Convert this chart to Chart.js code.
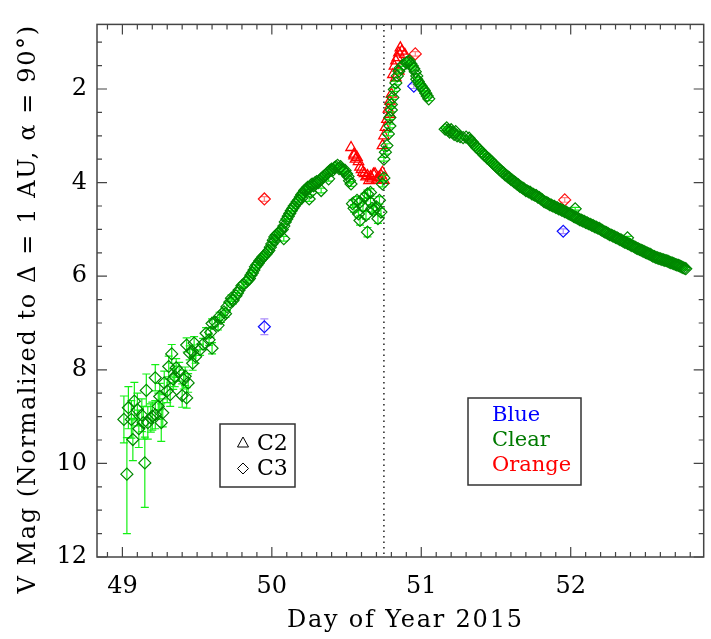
<!DOCTYPE html>
<html>
<head>
<meta charset="utf-8">
<script src="https://cdn.jsdelivr.net/npm/chart.js@4.4.0/dist/chart.umd.min.js"></script>
<style>
html, body { margin: 0; padding: 0; background: #fff; }
#wrap { width: 711px; height: 639px; }
</style>
</head>
<body>
<div id="wrap"><canvas id="lightCurve" width="711" height="639"></canvas></div>
<script>
// [day, mag, err] or [day, mag, errUp, errDown]
const clearEarly = [
  [49.01, 9.06, 0.50], [49.03, 10.23, 0.78, 1.27], [49.04, 8.81, 0.45], [49.06, 9.06, 0.40],
  [49.07, 9.49, 0.45], [49.08, 8.67, 0.40], [49.10, 8.85, 0.35], [49.11, 9.26, 0.40],
  [49.13, 8.97, 0.35], [49.14, 9.13, 0.35], [49.15, 9.99, 0.55, 0.95], [49.16, 8.44, 0.35],
  [49.17, 9.13, 0.35], [49.19, 9.03, 0.30], [49.20, 8.99, 0.30], [49.22, 8.17, 0.28],
  [49.22, 8.96, 0.30], [49.24, 8.78, 0.28], [49.25, 8.57, 0.28], [49.26, 9.13, 0.40],
  [49.27, 8.92, 0.30], [49.28, 8.28, 0.25], [49.30, 8.45, 0.25], [49.31, 7.93, 0.22],
  [49.32, 8.53, 0.25], [49.33, 7.66, 0.20], [49.34, 8.20, 0.22], [49.35, 8.14, 0.22],
  [49.36, 7.96, 0.20], [49.38, 8.04, 0.20], [49.40, 8.55, 0.25], [49.41, 8.21, 0.20],
  [49.42, 8.14, 0.20], [49.43, 8.60, 0.22], [49.43, 7.47, 0.15], [49.44, 8.28, 0.20],
  [49.45, 7.64, 0.15], [49.47, 7.86, 0.15], [49.47, 7.61, 0.14], [49.48, 7.43, 0.14],
  [49.49, 7.72, 0.14], [49.52, 7.57, 0.12], [49.54, 7.45, 0.12], [49.56, 7.22, 0.12],
  [49.58, 7.36, 0.12], [49.59, 7.20, 0.10], [49.60, 7.54, 0.12], [49.60, 7.01, 0.10],
  [49.62, 6.98, 0.10], [49.64, 7.05, 0.10], [49.65, 6.86, 0.09], [49.66, 6.90, 0.09],
  [49.68, 6.76, 0.08], [49.69, 6.80, 0.08], [49.70, 6.65, 0.08], [49.72, 6.55, 0.07],
  [49.73, 6.47, 0.07], [49.74, 6.52, 0.07], [49.76, 6.42, 0.07], [49.77, 6.36, 0.06],
  [49.78, 6.30, 0.06], [49.80, 6.20, 0.06], [49.81, 6.18, 0.06], [49.83, 6.12, 0.06],
  [49.84, 6.08, 0.06]
];
const clearRise = [
  [49.85, 6.05, .05], [49.86, 5.98, .05], [49.87, 5.93, .05], [49.88, 5.87, .05], [49.89, 5.80, .05],
  [49.90, 5.76, .05], [49.91, 5.72, .05], [49.92, 5.67, .05], [49.93, 5.63, .05], [49.94, 5.59, .05],
  [49.95, 5.56, .05], [49.96, 5.53, .05], [49.97, 5.49, .05], [49.98, 5.45, .05], [49.99, 5.38, .05],
  [50.00, 5.31, .05], [50.01, 5.23, .05], [50.02, 5.16, .05], [50.02, 5.24, .05], [50.03, 5.12, .05],
  [50.04, 5.09, .05], [50.05, 5.06, .05], [50.06, 5.03, .05], [50.07, 5.00, .05], [50.08, 5.20, .05],
  [50.08, 4.93, .05], [50.09, 4.84, .05], [50.10, 4.78, .05], [50.11, 4.72, .05], [50.12, 4.66, .05],
  [50.13, 4.60, .05], [50.14, 4.55, .05], [50.15, 4.50, .05], [50.16, 4.46, .05], [50.17, 4.41, .05],
  [50.18, 4.37, .05], [50.19, 4.31, .05], [50.20, 4.26, .05], [50.20, 4.33, .05], [50.21, 4.22, .05],
  [50.22, 4.17, .05], [50.23, 4.14, .05], [50.24, 4.10, .05], [50.25, 4.35, .05], [50.25, 4.12, .05],
  [50.26, 4.06, .05], [50.26, 4.21, .05], [50.27, 4.03, .05], [50.28, 4.07, .05], [50.29, 4.00, .05],
  [50.30, 3.98, .05], [50.31, 4.00, .05], [50.32, 3.95, .05], [50.33, 4.17, .05], [50.33, 3.92, .05],
  [50.34, 3.89, .05], [50.35, 3.86, .05], [50.36, 3.84, .05], [50.37, 3.80, .05], [50.38, 3.77, .05],
  [50.38, 3.92, .05], [50.39, 3.74, .05], [50.40, 3.71, .05], [50.41, 3.73, .05], [50.42, 3.68, .05],
  [50.43, 3.66, .05], [50.44, 3.63, .05], [50.45, 3.70, .05], [50.46, 3.66, .05], [50.47, 3.72, .05],
  [50.48, 3.76, .05], [50.49, 3.74, .05], [50.50, 3.81, .05], [50.51, 3.87, .05], [50.52, 3.96, .05],
  [50.53, 4.03, .05]
];
const clearDip = [
  [50.54, 4.45, .08], [50.55, 4.55, .08], [50.57, 4.38, .08], [50.58, 4.67, .08], [50.59, 4.42, .08],
  [50.59, 4.81, .10], [50.61, 4.52, .08], [50.62, 4.31, .08], [50.63, 4.70, .08], [50.64, 4.24, .08],
  [50.64, 5.06, .10], [50.66, 4.21, .08], [50.66, 4.42, .08], [50.67, 4.55, .08], [50.68, 4.60, .08],
  [50.70, 4.52, .08], [50.71, 4.77, .10], [50.72, 4.38, .08], [50.73, 4.63, .08], [50.74, 4.03, .06],
  [50.75, 3.90, .06]
];
const clearPeak = [
  [50.75, 3.50, .04], [50.76, 3.35, .04], [50.77, 3.21, .04], [50.78, 2.96, .04], [50.79, 2.79, .04],
  [50.79, 2.61, .04], [50.80, 2.45, .04], [50.80, 2.33, .04], [50.81, 2.18, .04], [50.82, 2.01, .04],
  [50.83, 1.87, .04], [50.84, 1.72, .04], [50.85, 1.62, .04], [50.86, 1.55, .04], [50.88, 1.48, .04],
  [50.90, 1.44, .04], [50.91, 1.42, .04], [50.92, 1.40, .04], [50.93, 1.46, .04], [50.94, 1.51, .04],
  [50.95, 1.57, .04], [50.96, 1.63, .04], [50.97, 1.72, .04], [50.97, 1.79, .04], [50.98, 1.84, .04],
  [50.99, 1.90, .04], [51.00, 1.94, .04], [51.01, 1.99, .04], [51.02, 2.03, .04], [51.03, 2.09, .04],
  [51.04, 2.15, .04], [51.05, 2.21, .04]
];
const clearTail = [
  [51.16, 2.86, .03], [51.17, 2.83, .03], [51.18, 2.88, .03], [51.19, 2.92, .03], [51.20, 2.87, .03],
  [51.21, 2.93, .03], [51.22, 2.97, .03], [51.23, 2.91, .03], [51.24, 3.00, .03], [51.26, 3.02, .03],
  [51.28, 3.04, .03], [51.30, 3.03, .03], [51.32, 3.05, .03], [51.33, 3.10, .03], [51.34, 3.13, .03],
  [51.35, 3.17, .03], [51.36, 3.21, .03], [51.37, 3.25, .03], [51.38, 3.27, .03], [51.39, 3.30, .03],
  [51.40, 3.34, .03], [51.41, 3.37, .03], [51.42, 3.41, .03], [51.43, 3.43, .03], [51.44, 3.47, .03],
  [51.45, 3.49, .03], [51.46, 3.52, .03], [51.47, 3.55, .03], [51.48, 3.59, .03], [51.49, 3.62, .03],
  [51.50, 3.65, .03], [51.51, 3.68, .03], [51.52, 3.71, .03], [51.53, 3.74, .03], [51.54, 3.77, .03],
  [51.55, 3.79, .03], [51.56, 3.83, .03], [51.57, 3.85, .03], [51.58, 3.88, .03], [51.59, 3.90, .03],
  [51.60, 3.93, .03], [51.61, 3.95, .03], [51.62, 3.98, .03], [51.63, 4.00, .03], [51.64, 4.03, .03],
  [51.65, 4.05, .03], [51.66, 4.08, .03], [51.67, 4.10, .03], [51.68, 4.12, .03], [51.69, 4.14, .03],
  [51.70, 4.17, .03], [51.71, 4.18, .03], [51.72, 4.20, .03], [51.73, 4.21, .03], [51.74, 4.24, .03],
  [51.75, 4.25, .03], [51.76, 4.27, .03], [51.77, 4.28, .03], [51.78, 4.31, .03], [51.79, 4.32, .03],
  [51.80, 4.35, .03], [51.81, 4.37, .03], [51.82, 4.40, .03], [51.83, 4.42, .03], [51.84, 4.43, .03],
  [51.85, 4.45, .03], [51.86, 4.47, .03], [51.87, 4.48, .03], [51.88, 4.50, .03], [51.89, 4.51, .03],
  [51.90, 4.53, .03], [51.91, 4.54, .03], [51.92, 4.56, .03], [51.93, 4.57, .03], [51.94, 4.59, .03],
  [51.95, 4.60, .03], [51.96, 4.62, .03], [51.97, 4.63, .03], [51.98, 4.65, .03], [51.99, 4.67, .03],
  [52.00, 4.68, .03], [52.01, 4.70, .03], [52.02, 4.72, .03], [52.03, 4.74, .03], [52.04, 4.75, .03],
  [52.05, 4.77, .03], [52.06, 4.79, .03], [52.07, 4.80, .03], [52.08, 4.82, .03], [52.09, 4.83, .03],
  [52.10, 4.85, .03], [52.11, 4.86, .03], [52.12, 4.88, .03], [52.13, 4.89, .03], [52.14, 4.91, .03],
  [52.15, 4.92, .03], [52.16, 4.94, .03], [52.17, 4.95, .03], [52.18, 4.97, .03], [52.19, 4.98, .03],
  [52.20, 5.00, .03], [52.21, 5.02, .03], [52.22, 5.04, .03], [52.23, 5.06, .03], [52.24, 5.07, .03],
  [52.25, 5.09, .03], [52.26, 5.11, .03], [52.27, 5.12, .03], [52.28, 5.14, .03], [52.29, 5.15, .03],
  [52.30, 5.17, .03], [52.31, 5.18, .03], [52.32, 5.20, .03], [52.33, 5.22, .03], [52.34, 5.23, .03],
  [52.35, 5.25, .03], [52.36, 5.27, .03], [52.37, 5.28, .03], [52.38, 5.30, .03], [52.39, 5.31, .03],
  [52.40, 5.33, .03], [52.41, 5.35, .03], [52.42, 5.36, .03], [52.43, 5.38, .03], [52.44, 5.40, .03],
  [52.45, 5.41, .03], [52.46, 5.43, .03], [52.47, 5.44, .03], [52.48, 5.46, .03], [52.49, 5.47, .03],
  [52.50, 5.49, .03], [52.51, 5.50, .03], [52.52, 5.52, .03], [52.53, 5.53, .03], [52.54, 5.55, .03],
  [52.55, 5.57, .03], [52.56, 5.58, .03], [52.57, 5.60, .03], [52.58, 5.61, .03], [52.59, 5.62, .03],
  [52.60, 5.63, .03], [52.61, 5.64, .03], [52.62, 5.65, .03], [52.63, 5.66, .03], [52.64, 5.67, .03],
  [52.65, 5.68, .03], [52.66, 5.70, .03], [52.67, 5.71, .03], [52.68, 5.72, .03], [52.69, 5.73, .03],
  [52.70, 5.75, .03], [52.71, 5.76, .03], [52.72, 5.77, .03], [52.73, 5.78, .03], [52.74, 5.80, .03],
  [52.75, 5.81, .03], [52.76, 5.83, .03], [52.77, 5.84, .03],
  [52.03, 4.56, .03], [52.38, 5.18, .03]
];
const orangeC2 = [
  [50.53, 3.25], [50.55, 3.39], [50.55, 3.43], [50.56, 3.50], [50.57, 3.46], [50.58, 3.55],
  [50.59, 3.67], [50.60, 3.72], [50.61, 3.78], [50.62, 3.81], [50.63, 3.88], [50.64, 3.85],
  [50.65, 3.96], [50.66, 3.87], [50.67, 3.92], [50.68, 3.82], [50.69, 3.81], [50.70, 3.95],
  [50.71, 3.89], [50.72, 3.88], [50.73, 3.84], [50.74, 3.78], [50.75, 3.95], [50.74, 3.21],
  [50.75, 3.00], [50.76, 2.82], [50.77, 2.65], [50.78, 2.43], [50.79, 2.54], [50.79, 2.26],
  [50.80, 2.11], [50.81, 1.69], [50.82, 1.51], [50.83, 1.76], [50.83, 1.40], [50.84, 1.33],
  [50.85, 1.62], [50.85, 1.23], [50.86, 1.12], [50.87, 1.19], [50.89, 1.26]
];
const orangeC3 = [[49.95, 4.35, .05], [50.96, 1.25, .05], [51.96, 4.37, .05]];
const blueC3 = [[49.95, 7.08, .17], [50.95, 1.94, .05], [51.95, 5.04, .05]];

const dayTicks = [49, 50, 51, 52];
const magTicks = [2, 4, 6, 8, 10, 12];
const flareDay = 50.75;
const xTitle = 'Day of Year 2015';
const yTitle = 'V Mag (Normalized to Δ = 1 AU, α = 90°)';

const toPoints = rows => rows.map(r => ({ x: r[0], y: r[1], up: r[2] || 0, down: r[3] !== undefined ? r[3] : (r[2] || 0) }));

const serif = "'DejaVu Serif', serif";

const errorBars = {
  id: 'errorBars',
  beforeDatasetDraw(chart, args) {
    const ds = chart.data.datasets[args.index];
    if (!ds.errorColor) return;
    const { ctx, scales: { x, y }, chartArea } = chart;
    ctx.save();
    ctx.beginPath();
    ctx.rect(chartArea.left, chartArea.top, chartArea.right - chartArea.left, chartArea.bottom - chartArea.top);
    ctx.clip();
    ctx.strokeStyle = ds.errorColor;
    ctx.lineWidth = 1.2;
    ds.data.forEach(p => {
      if (!p.up && !p.down) return;
      const px = x.getPixelForValue(p.x);
      const y1 = y.getPixelForValue(p.y - p.up);
      const y2 = y.getPixelForValue(p.y + p.down);
      ctx.beginPath();
      ctx.moveTo(px, y1); ctx.lineTo(px, y2);
      ctx.moveTo(px - 4, y1); ctx.lineTo(px + 4, y1);
      ctx.moveTo(px - 4, y2); ctx.lineTo(px + 4, y2);
      ctx.stroke();
    });
    ctx.restore();
  }
};

const frame = {
  id: 'frame',
  beforeDatasetsDraw(chart) {
    const { ctx, scales: { x }, chartArea: a } = chart;
    const px = x.getPixelForValue(flareDay);
    ctx.save();
    ctx.strokeStyle = '#222';
    ctx.lineWidth = 1.5;
    ctx.setLineDash([1.5, 4]);
    ctx.beginPath();
    ctx.moveTo(px, a.top); ctx.lineTo(px, a.bottom);
    ctx.stroke();
    ctx.restore();
  },
  afterDraw(chart) {
    const { ctx, scales: { x, y }, chartArea: a } = chart;
    ctx.save();
    ctx.strokeStyle = '#444';
    ctx.lineWidth = 1.5;
    ctx.strokeRect(a.left, a.top, a.right - a.left, a.bottom - a.top);
    ctx.lineWidth = 1.2;
    ctx.beginPath();
    for (let i = 488; i <= 528; i++) {
      const v = i / 10;
      if (v < x.min || v > x.max) continue;
      const p = x.getPixelForValue(v);
      const len = (i % 10 === 0) ? 10 : 5;
      ctx.moveTo(p, a.bottom); ctx.lineTo(p, a.bottom - len);
      ctx.moveTo(p, a.top); ctx.lineTo(p, a.top + len);
    }
    for (let i = 2; i <= 24; i++) {
      const v = i / 2;
      if (v < y.min || v > y.max) continue;
      const p = y.getPixelForValue(v);
      const len = (i % 4 === 0) ? 10 : 5;
      ctx.moveTo(a.left, p); ctx.lineTo(a.left + len, p);
      ctx.moveTo(a.right, p); ctx.lineTo(a.right - len, p);
    }
    ctx.stroke();

    // axis titles, spaced out like the vector font of the original
    ctx.fillStyle = '#000';
    ctx.font = '24px ' + serif;
    ctx.textAlign = 'center';
    ctx.textBaseline = 'alphabetic';
    ctx.letterSpacing = '1.8px';
    ctx.fillText(xTitle, (a.left + a.right) / 2 + 5, 627);
    ctx.save();
    ctx.translate(35, 309);
    ctx.rotate(-Math.PI / 2);
    ctx.letterSpacing = '1.6px';
    ctx.fillText(yTitle, 0, 0);
    ctx.restore();
    ctx.letterSpacing = '0px';
    ctx.textAlign = 'left';

    // instrument legend
    ctx.strokeStyle = '#333';
    ctx.lineWidth = 1.5;
    ctx.strokeRect(220, 424, 75, 63);
    ctx.fillStyle = '#000';
    ctx.font = '22px ' + serif;
    ctx.textBaseline = 'middle';
    ctx.fillText('C2', 257, 444);
    ctx.fillText('C3', 257, 469);
    ctx.lineWidth = 1;
    ctx.strokeStyle = '#000';
    ctx.beginPath();
    ctx.moveTo(243, 437); ctx.lineTo(248.5, 447); ctx.lineTo(237.5, 447); ctx.closePath();
    ctx.moveTo(243, 463); ctx.lineTo(248.5, 468.5); ctx.lineTo(243, 474); ctx.lineTo(237.5, 468.5); ctx.closePath();
    ctx.stroke();

    // filter legend
    ctx.strokeStyle = '#333';
    ctx.lineWidth = 1.5;
    ctx.strokeRect(468, 398, 113, 87);
    ctx.font = '21px ' + serif;
    ctx.fillStyle = '#0000ff'; ctx.fillText('Blue', 492, 416);
    ctx.fillStyle = '#007a00'; ctx.fillText('Clear', 492, 441);
    ctx.fillStyle = '#ff0000'; ctx.fillText('Orange', 492, 466);
    ctx.restore();
  }
};

const greenEdge = 'rgb(0,135,0)';

new Chart(document.getElementById('lightCurve'), {
  type: 'scatter',
  data: {
    datasets: [
      {
        label: 'Clear C3',
        data: toPoints([...clearEarly, ...clearRise, ...clearDip, ...clearPeak, ...clearTail]),
        pointStyle: 'rectRot', pointRadius: 6, borderWidth: 1.2,
        borderColor: greenEdge, backgroundColor: 'rgba(0,0,0,0)',
        errorColor: 'rgb(20,240,20)'
      },
      {
        label: 'Orange C2',
        data: toPoints(orangeC2),
        pointStyle: 'triangle', pointRadius: 6, borderWidth: 1.3,
        borderColor: '#ff0000', backgroundColor: 'rgba(0,0,0,0)'
      },
      {
        label: 'Orange C3',
        data: toPoints(orangeC3),
        pointStyle: 'rectRot', pointRadius: 6, borderWidth: 1.2,
        borderColor: '#ff1010', backgroundColor: 'rgba(0,0,0,0)',
        errorColor: 'rgb(255,130,130)'
      },
      {
        label: 'Blue C3',
        data: toPoints(blueC3),
        pointStyle: 'rectRot', pointRadius: 6, borderWidth: 1.2,
        borderColor: '#1010ff', backgroundColor: 'rgba(0,0,0,0)',
        errorColor: 'rgb(170,140,250)'
      }
    ]
  },
  options: {
    responsive: false,
    animation: false,
    events: [],
    layout: { padding: { top: 22, right: 1, left: 0, bottom: 0 } },
    plugins: { legend: { display: false }, tooltip: { enabled: false } },
    scales: {
      x: {
        type: 'linear', min: 48.83, max: 52.89,
        grid: { display: false, drawTicks: false },
        border: { display: false },
        afterBuildTicks: s => { s.ticks = dayTicks.map(v => ({ value: v })); },
        afterFit: s => { s.height = 82; },
        ticks: { color: '#000', font: { family: serif, size: 24 }, padding: 15, maxRotation: 0, autoSkip: false }
      },
      y: {
        type: 'linear', reverse: true, min: 0.62, max: 12,
        grid: { display: false, drawTicks: false },
        border: { display: false },
        afterBuildTicks: s => { s.ticks = magTicks.map(v => ({ value: v })); },
        afterFit: s => { s.width = 97; },
        ticks: { color: '#000', font: { family: serif, size: 24 }, padding: 10, autoSkip: false }
      }
    }
  },
  plugins: [errorBars, frame]
});
</script>
</body>
</html>
